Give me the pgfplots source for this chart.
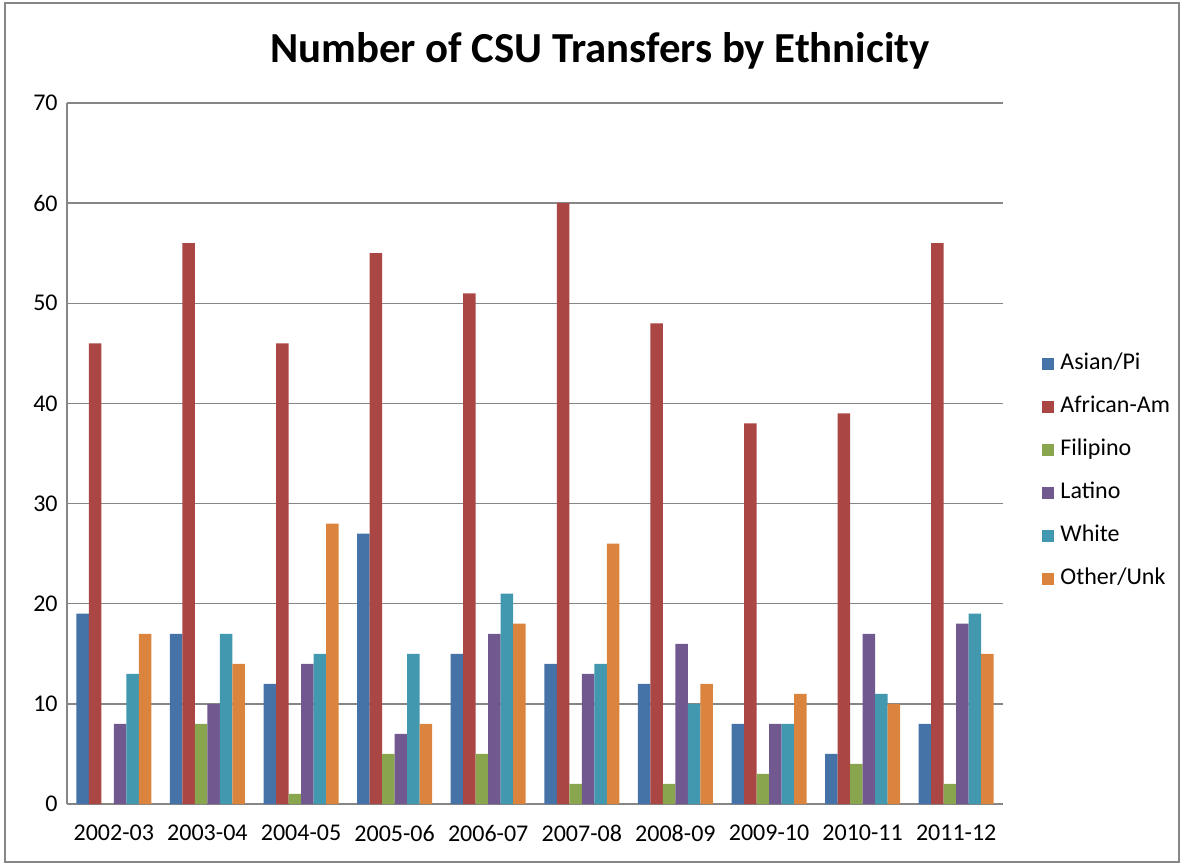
\documentclass[border=0pt]{standalone}
\usepackage{pgfplots}
\pgfplotsset{compat=1.18}
\usepackage{pgfplotstable}
\usepackage{fontspec}
\setmainfont{Carlito}

\definecolor{asian}{HTML}{4572A7}
\definecolor{african}{HTML}{AA4643}
\definecolor{filipino}{HTML}{89A54E}
\definecolor{latino}{HTML}{71588F}
\definecolor{white}{HTML}{4198AF}
\definecolor{other}{HTML}{DB843D}
\definecolor{axisgray}{HTML}{868686}

% year Asian/Pi African-Am Filipino Latino White Other/Unk
\pgfplotstableread{
x asian african filipino latino white other
0 19 46 0 8 13 17
1 17 56 8 10 17 14
2 12 46 1 14 15 28
3 27 55 5 7 15 8
4 15 51 5 17 21 18
5 14 60 2 13 14 26
6 12 48 2 16 10 12
7 8 38 3 8 8 11
8 5 39 4 17 11 10
9 8 56 2 18 19 15
}\transfers

\begin{document}
\begin{tikzpicture}
\useasboundingbox (-33.5bp,-30bp) rectangle (557.5bp,402bp);
\begin{axis}[
    scale only axis,
    width=468bp, height=350.5bp,
    ybar=0pt, bar width=6.25bp,
    xmin=-0.5, xmax=9.5,
    ymin=0, ymax=70,
    enlargelimits=false,
    xtick={0,...,9},
    xticklabels={2002-03,2003-04,2004-05,2005-06,2006-07,2007-08,2008-09,2009-10,2010-11,2011-12},
    ytick={0,10,...,70},
    major tick length=0pt,
    axis x line*=bottom, axis y line*=left,
    axis line style={axisgray, line width=1bp, -},
    ymajorgrids,
    grid style={axisgray, line width=0.7bp},
    font=\fontsize{12bp}{14bp}\selectfont,
    /pgf/number format/assume math mode=true,
    xticklabel style={anchor=north, inner sep=0pt, yshift=-10.5bp},
    yticklabel style={anchor=east, inner sep=0pt, xshift=-4.5bp},
    title={\bfseries Number of CSU Transfers by Ethnicity},
    title style={at={(0.5695,1)}, anchor=base, yshift=14.5bp, inner sep=0pt,
        font=\fontsize{21.4bp}{25bp}\selectfont},
    legend style={at={(1.0417,0.475)}, anchor=west, draw=none, fill=none,
        inner sep=0pt, row sep=10bp,
        nodes={inner sep=0pt, text height=8.5bp, text depth=3bp, anchor=west},
        /tikz/every odd column/.append style={column sep=3bp}},
    legend cell align=left,
    legend image code/.code={\fill[#1] (0bp,-3bp) rectangle (6bp,3bp);},
    every axis plot/.append style={draw=none},
]
\addplot[fill=asian] table[x=x, y=asian] {\transfers};
\addplot[fill=african] table[x=x, y=african] {\transfers};
\addplot[fill=filipino] table[x=x, y=filipino] {\transfers};
\addplot[fill=latino] table[x=x, y=latino] {\transfers};
\addplot[fill=white] table[x=x, y=white] {\transfers};
\addplot[fill=other] table[x=x, y=other] {\transfers};
\legend{Asian/Pi, African-Am, Filipino, Latino, White, Other/Unk}
\end{axis}
\draw[axisgray, line width=0.6bp] (-31bp,-29bp) rectangle (556bp,400.5bp);
\end{tikzpicture}
\end{document}
